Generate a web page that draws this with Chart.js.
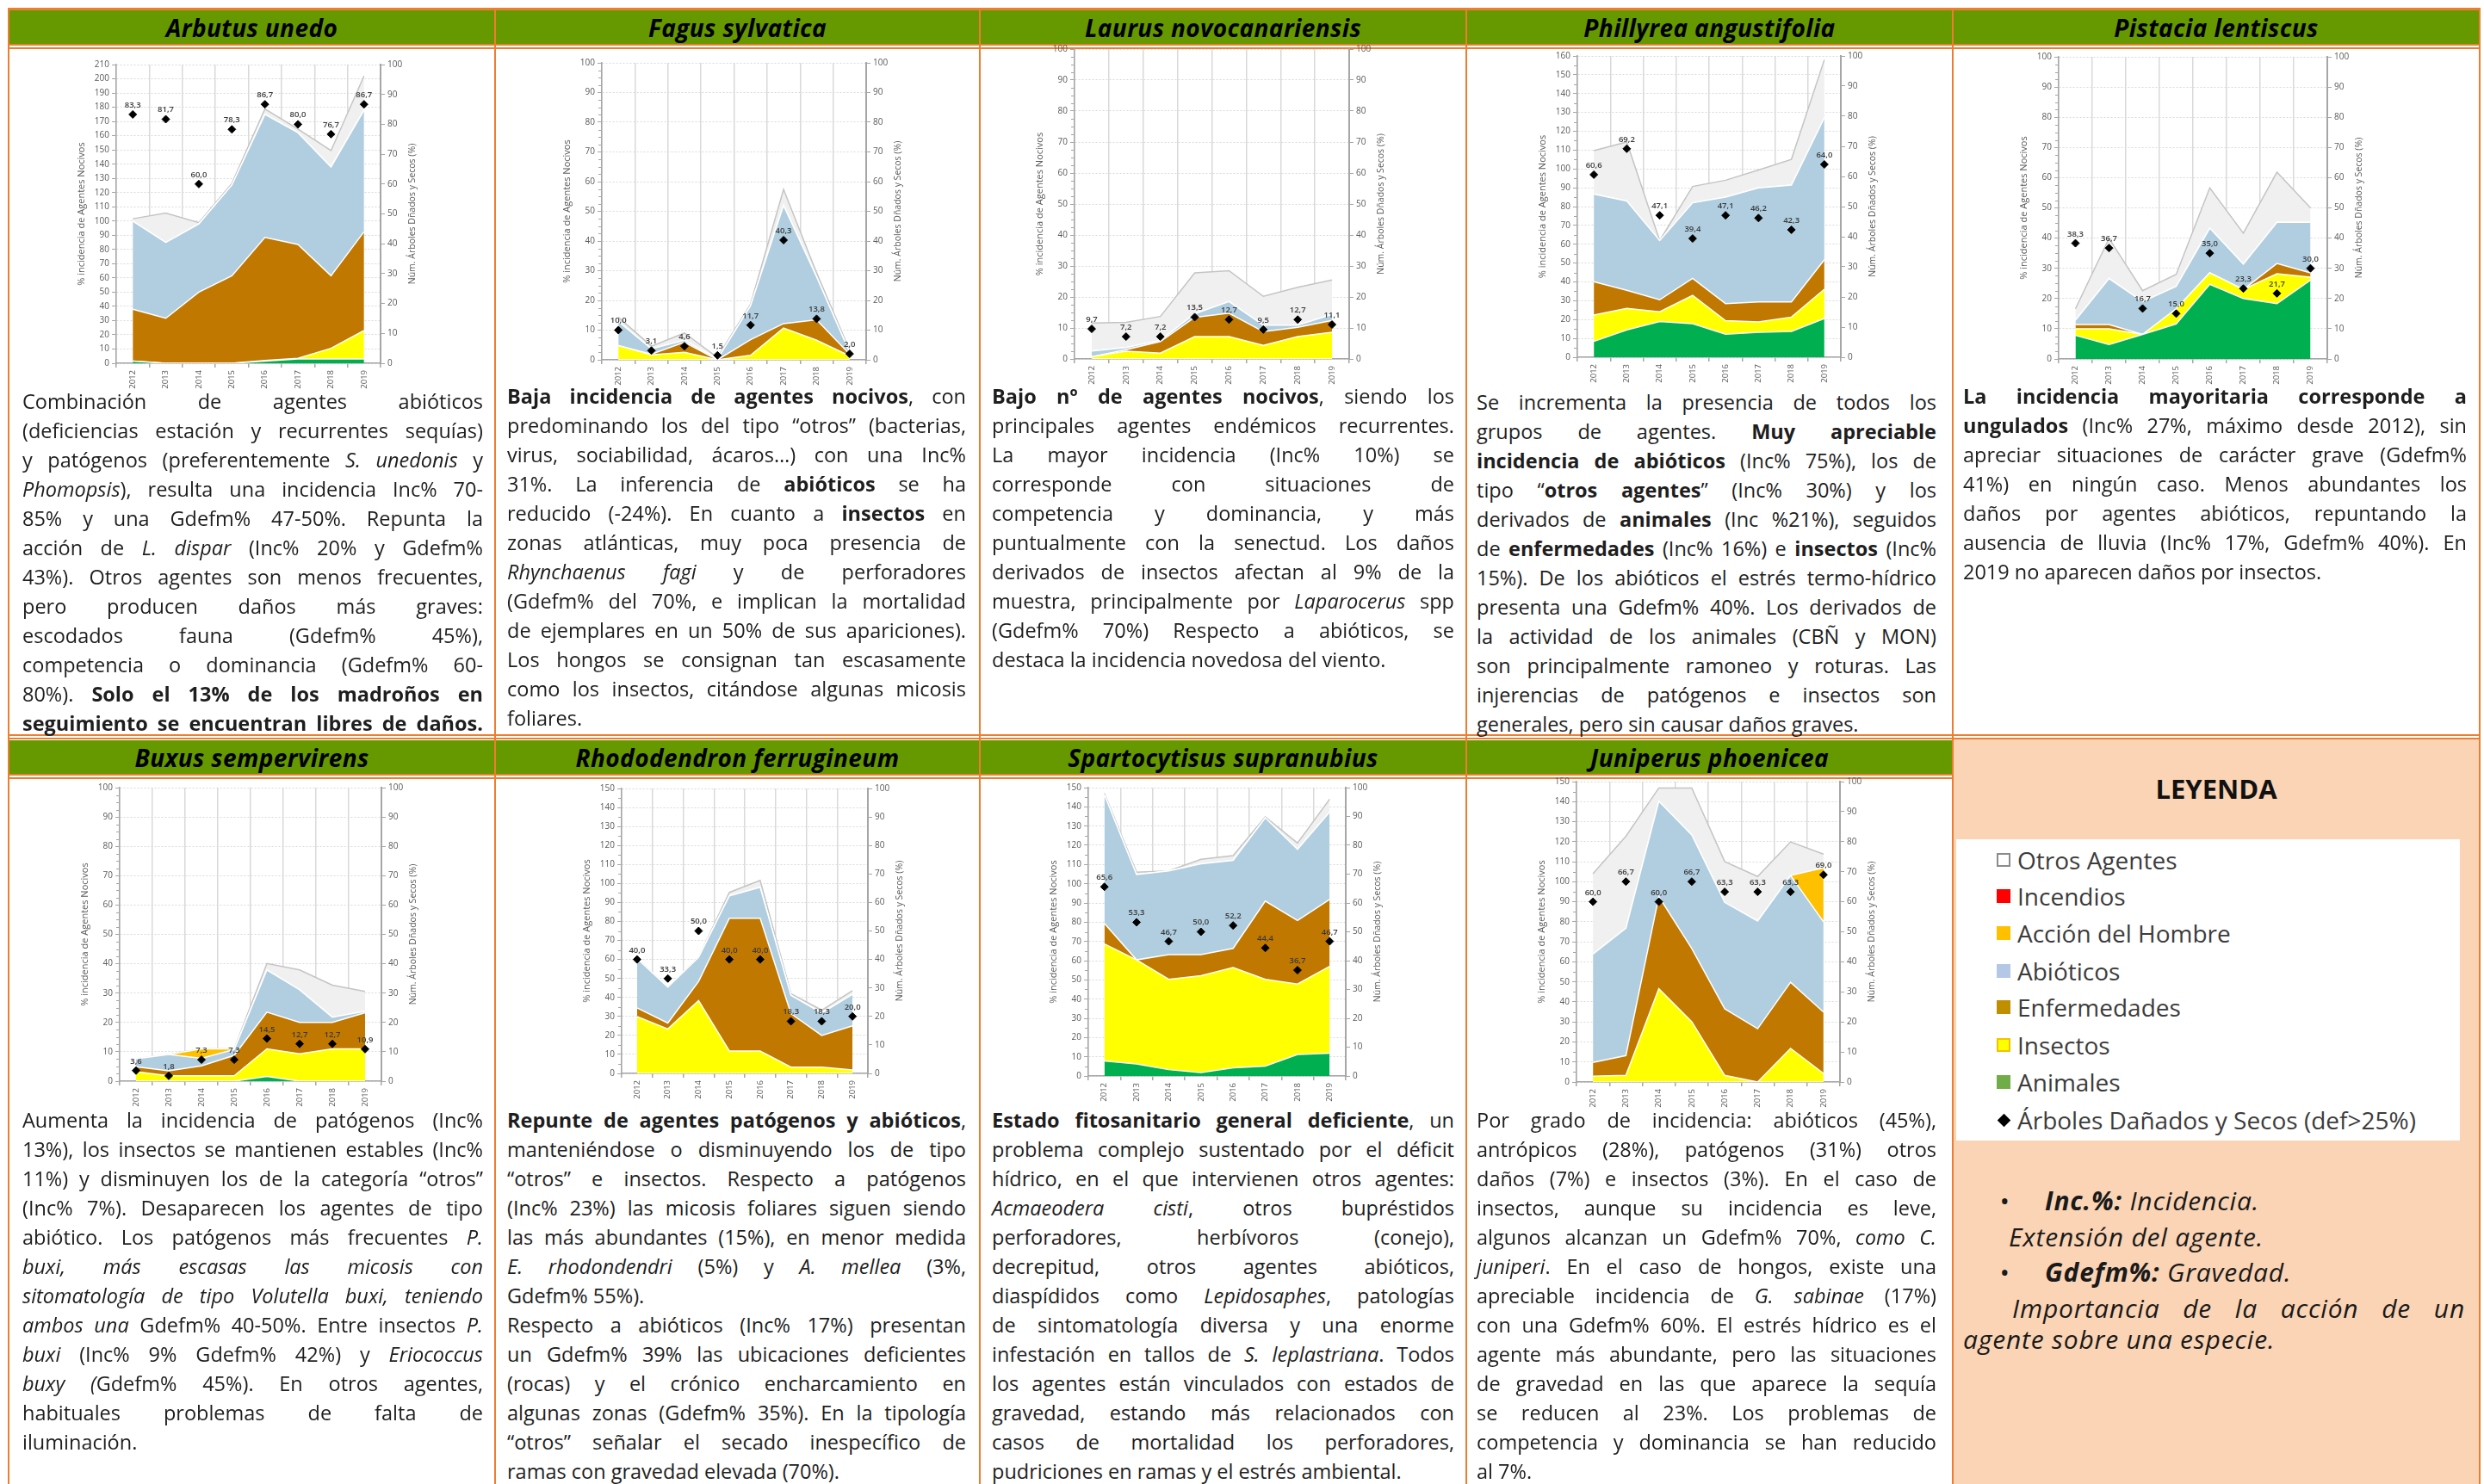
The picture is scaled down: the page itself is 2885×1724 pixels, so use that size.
<!DOCTYPE html>
<html lang="es">
<head>
<meta charset="UTF-8">
<title>Agentes nocivos por especie</title>
<script src="https://cdn.jsdelivr.net/npm/chart.js"></script>
<style>
* { margin: 0; padding: 0; box-sizing: border-box; }
body {
  width: 2885px; height: 1724px; position: relative; overflow: hidden;
  background: #fff; font-family: 'Open Sans', sans-serif; color: #1e1e1e;
}
.hdr {
  position: absolute; background: #669900; display: flex; align-items: center; justify-content: center;
  font-weight: 700; font-style: italic; font-size: 28px; letter-spacing: 0.4px; color: #000;
}
.vl { position: absolute; width: 2px; background: #ed7d31; }
.hl { position: absolute; height: 2px; background: #ed7d31; }
.box { position: absolute; }
.txt { position: absolute; font-size: 23.5px; line-height: 34px; }
.txt .l { text-align: justify; text-align-last: justify; }
.txt .e { text-align-last: left; }

/* Leyenda */
.peach { position: absolute; left: 2269px; top: 859px; width: 610px; height: 865px; background: #fad4b4; }
.leg-title { position: absolute; left: 2269px; width: 610px; top: 895px; text-align: center; font-weight: 700; font-size: 31px; color: #111; }
.leg-box { position: absolute; left: 2272px; top: 975px; width: 585px; height: 350px; background: #fff; }
.leg-item { position: absolute; left: 2319px; height: 40px; display: flex; align-items: center; font-size: 28px; color: #3c3c3c; }
.sw { width: 16px; height: 16px; margin-right: 8px; }
.dia { width: 11px; height: 11px; background: #000; transform: rotate(45deg); margin: 0 10px 0 3px; }
.note { position: absolute; font-size: 30px; letter-spacing: 0.8px; font-style: italic; color: #1a1a1a; white-space: nowrap; }
</style>
</head>
<body>

<!-- frame -->
<div class="hl" style="left:9px;top:9px;width:2872px;height:3px"></div>
<div class="hl" style="left:9px;top:51px;width:2872px"></div>
<div class="hl" style="left:9px;top:55px;width:2872px"></div>
<div class="hl" style="left:9px;top:853px;width:2872px"></div>
<div class="hl" style="left:9px;top:857px;width:2872px"></div>
<div class="hl" style="left:9px;top:899px;width:2260px"></div>
<div class="hl" style="left:9px;top:903px;width:2260px"></div>

<div class="hdr" style="left:11px;top:12px;width:563px;height:39px">Arbutus unedo</div>
<div class="hdr" style="left:576px;top:12px;width:561px;height:39px">Fagus sylvatica</div>
<div class="hdr" style="left:1139px;top:12px;width:563px;height:39px">Laurus novocanariensis</div>
<div class="hdr" style="left:1704px;top:12px;width:563px;height:39px">Phillyrea angustifolia</div>
<div class="hdr" style="left:2269px;top:12px;width:610px;height:39px">Pistacia lentiscus</div>

<div class="hdr" style="left:11px;top:860px;width:563px;height:39px">Buxus sempervirens</div>
<div class="hdr" style="left:576px;top:860px;width:561px;height:39px">Rhododendron ferrugineum</div>
<div class="hdr" style="left:1139px;top:860px;width:563px;height:39px">Spartocytisus supranubius</div>
<div class="hdr" style="left:1704px;top:860px;width:563px;height:39px">Juniperus phoenicea</div>

<div class="peach"></div>

<div class="vl" style="left:9px;top:9px;height:1715px"></div>
<div class="vl" style="left:574px;top:9px;height:1715px"></div>
<div class="vl" style="left:1137px;top:9px;height:1715px"></div>
<div class="vl" style="left:1702px;top:9px;height:1715px"></div>
<div class="vl" style="left:2267px;top:9px;height:1715px"></div>
<div class="vl" style="left:2879px;top:9px;height:1715px"></div>

<!-- charts -->
<div class="box" style="left:87px;top:65px;width:399px;height:387px"><canvas id="c1"></canvas></div>
<div class="box" style="left:651px;top:63px;width:399px;height:385px"><canvas id="c2"></canvas></div>
<div class="box" style="left:1200px;top:47px;width:411px;height:400px"><canvas id="c3"></canvas></div>
<div class="box" style="left:1784px;top:55px;width:398px;height:390px"><canvas id="c4"></canvas></div>
<div class="box" style="left:2343px;top:56px;width:404px;height:391px"><canvas id="c5"></canvas></div>
<div class="box" style="left:91px;top:905px;width:396px;height:381px"><canvas id="c6"></canvas></div>
<div class="box" style="left:674px;top:906px;width:378px;height:371px"><canvas id="c7"></canvas></div>
<div class="box" style="left:1216px;top:905px;width:391px;height:375px"><canvas id="c8"></canvas></div>
<div class="box" style="left:1783px;top:898px;width:398px;height:389px"><canvas id="c9"></canvas></div>

<!-- texts row 1 -->
<div class="txt" style="left:26px;top:449px;width:535px">
<div class="l">Combinación de agentes abióticos</div>
<div class="l">(deficiencias estación y recurrentes sequías)</div>
<div class="l">y patógenos (preferentemente <i>S. unedonis</i> y</div>
<div class="l"><i>Phomopsis</i>), resulta una incidencia Inc% 70-</div>
<div class="l">85% y una Gdefm% 47-50%. Repunta la</div>
<div class="l">acción de <i>L. dispar</i> (Inc% 20% y Gdefm%</div>
<div class="l">43%). Otros agentes son menos frecuentes,</div>
<div class="l">pero producen daños más graves:</div>
<div class="l">escodados fauna (Gdefm% 45%),</div>
<div class="l">competencia o dominancia (Gdefm% 60-</div>
<div class="l">80%). <b>Solo el 13% de los madroños en</b></div>
<div class="l"><b>seguimiento se encuentran libres de daños.</b></div>
</div>

<div class="txt" style="left:589px;top:443px;width:533px">
<div class="l"><b>Baja incidencia de agentes nocivos</b>, con</div>
<div class="l">predominando los del tipo “otros” (bacterias,</div>
<div class="l">virus, sociabilidad, ácaros…) con una Inc%</div>
<div class="l">31%. La inferencia de <b>abióticos</b> se ha</div>
<div class="l">reducido (-24%). En cuanto a <b>insectos</b> en</div>
<div class="l">zonas atlánticas, muy poca presencia de</div>
<div class="l"><i>Rhynchaenus fagi</i> y de perforadores</div>
<div class="l">(Gdefm% del 70%, e implican la mortalidad</div>
<div class="l">de ejemplares en un 50% de sus apariciones).</div>
<div class="l">Los hongos se consignan tan escasamente</div>
<div class="l">como los insectos, citándose algunas micosis</div>
<div class="l e">foliares.</div>
</div>

<div class="txt" style="left:1152px;top:443px;width:537px">
<div class="l"><b>Bajo nº de agentes nocivos</b>, siendo los</div>
<div class="l">principales agentes endémicos recurrentes.</div>
<div class="l">La mayor incidencia (Inc% 10%) se</div>
<div class="l">corresponde con situaciones de</div>
<div class="l">competencia y dominancia, y más</div>
<div class="l">puntualmente con la senectud. Los daños</div>
<div class="l">derivados de insectos afectan al 9% de la</div>
<div class="l">muestra, principalmente por <i>Laparocerus</i> spp</div>
<div class="l">(Gdefm% 70%) Respecto a abióticos, se</div>
<div class="l e">destaca la incidencia novedosa del viento.</div>
</div>

<div class="txt" style="left:1715px;top:450px;width:534px">
<div class="l">Se incrementa la presencia de todos los</div>
<div class="l">grupos de agentes. <b>Muy apreciable</b></div>
<div class="l"><b>incidencia de abióticos</b> (Inc% 75%), los de</div>
<div class="l">tipo “<b>otros agentes</b>” (Inc% 30%) y los</div>
<div class="l">derivados de <b>animales</b> (Inc %21%), seguidos</div>
<div class="l">de <b>enfermedades</b> (Inc% 16%) e <b>insectos</b> (Inc%</div>
<div class="l">15%). De los abióticos el estrés termo-hídrico</div>
<div class="l">presenta una Gdefm% 40%. Los derivados de</div>
<div class="l">la actividad de los animales (CBÑ y MON)</div>
<div class="l">son principalmente ramoneo y roturas. Las</div>
<div class="l">injerencias de patógenos e insectos son</div>
<div class="l e">generales, pero sin causar daños graves.</div>
</div>

<div class="txt" style="left:2280px;top:443px;width:585px">
<div class="l"><b>La incidencia mayoritaria corresponde a</b></div>
<div class="l"><b>ungulados</b> (Inc% 27%, máximo desde 2012), sin</div>
<div class="l">apreciar situaciones de carácter grave (Gdefm%</div>
<div class="l">41%) en ningún caso. Menos abundantes los</div>
<div class="l">daños por agentes abióticos, repuntando la</div>
<div class="l">ausencia de lluvia (Inc% 17%, Gdefm% 40%). En</div>
<div class="l e">2019 no aparecen daños por insectos.</div>
</div>

<!-- texts row 2 -->
<div class="txt" style="left:26px;top:1284px;width:535px">
<div class="l">Aumenta la incidencia de patógenos (Inc%</div>
<div class="l">13%), los insectos se mantienen estables (Inc%</div>
<div class="l">11%) y disminuyen los de la categoría “otros”</div>
<div class="l">(Inc% 7%). Desaparecen los agentes de tipo</div>
<div class="l">abiótico. Los patógenos más frecuentes <i>P.</i></div>
<div class="l"><i>buxi, más escasas las micosis con</i></div>
<div class="l"><i>sitomatología de tipo Volutella buxi, teniendo</i></div>
<div class="l"><i>ambos una</i> Gdefm% 40-50%. Entre insectos <i>P.</i></div>
<div class="l"><i>buxi</i> (Inc% 9% Gdefm% 42%) y <i>Eriococcus</i></div>
<div class="l"><i>buxy (</i>Gdefm% 45%). En otros agentes,</div>
<div class="l">habituales problemas de falta de</div>
<div class="l e">iluminación.</div>
</div>

<div class="txt" style="left:589px;top:1284px;width:533px">
<div class="l"><b>Repunte de agentes patógenos y abióticos</b>,</div>
<div class="l">manteniéndose o disminuyendo los de tipo</div>
<div class="l">“otros” e insectos. Respecto a patógenos</div>
<div class="l">(Inc% 23%) las micosis foliares siguen siendo</div>
<div class="l">las más abundantes (15%), en menor medida</div>
<div class="l"><i>E. rhodondendri</i> (5%) y <i>A. mellea</i> (3%,</div>
<div class="l e">Gdefm% 55%).</div>
<div class="l">Respecto a abióticos (Inc% 17%) presentan</div>
<div class="l">un Gdefm% 39% las ubicaciones deficientes</div>
<div class="l">(rocas) y el crónico encharcamiento en</div>
<div class="l">algunas zonas (Gdefm% 35%). En la tipología</div>
<div class="l">“otros” señalar el secado inespecífico de</div>
<div class="l e">ramas con gravedad elevada (70%).</div>
</div>

<div class="txt" style="left:1152px;top:1284px;width:537px">
<div class="l"><b>Estado fitosanitario general deficiente</b>, un</div>
<div class="l">problema complejo sustentado por el déficit</div>
<div class="l">hídrico, en el que intervienen otros agentes:</div>
<div class="l"><i>Acmaeodera cisti</i>, otros bupréstidos</div>
<div class="l">perforadores, herbívoros (conejo),</div>
<div class="l">decrepitud, otros agentes abióticos,</div>
<div class="l">diaspídidos como <i>Lepidosaphes</i>, patologías</div>
<div class="l">de sintomatología diversa y una enorme</div>
<div class="l">infestación en tallos de <i>S. leplastriana</i>. Todos</div>
<div class="l">los agentes están vinculados con estados de</div>
<div class="l">gravedad, estando más relacionados con</div>
<div class="l">casos de mortalidad los perforadores,</div>
<div class="l e">pudriciones en ramas y el estrés ambiental.</div>
</div>

<div class="txt" style="left:1715px;top:1284px;width:534px">
<div class="l">Por grado de incidencia: abióticos (45%),</div>
<div class="l">antrópicos (28%), patógenos (31%) otros</div>
<div class="l">daños (7%) e insectos (3%). En el caso de</div>
<div class="l">insectos, aunque su incidencia es leve,</div>
<div class="l">algunos alcanzan un Gdefm% 70%, <i>como C.</i></div>
<div class="l"><i>juniperi</i>. En el caso de hongos, existe una</div>
<div class="l">apreciable incidencia de <i>G. sabinae</i> (17%)</div>
<div class="l">con una Gdefm% 60%. El estrés hídrico es el</div>
<div class="l">agente más abundante, pero las situaciones</div>
<div class="l">de gravedad en las que aparece la sequía</div>
<div class="l">se reducen al 23%. Los problemas de</div>
<div class="l">competencia y dominancia se han reducido</div>
<div class="l e">al 7%.</div>
</div>

<!-- leyenda -->
<div class="leg-title">LEYENDA</div>
<div class="leg-box"></div>
<div class="leg-item" style="top:979px"><div class="sw" style="background:#fff;border:2px solid #8c8c8c"></div>Otros Agentes</div>
<div class="leg-item" style="top:1021px"><div class="sw" style="background:#ff0000"></div>Incendios</div>
<div class="leg-item" style="top:1064px"><div class="sw" style="background:#ffc000"></div>Acción del Hombre</div>
<div class="leg-item" style="top:1108px"><div class="sw" style="background:#b4c7e7"></div>Abióticos</div>
<div class="leg-item" style="top:1150px"><div class="sw" style="background:#bf8f00"></div>Enfermedades</div>
<div class="leg-item" style="top:1194px"><div class="sw" style="background:#ffff00;border:2px solid #f2c200"></div>Insectos</div>
<div class="leg-item" style="top:1237px"><div class="sw" style="background:#70ad47"></div>Animales</div>
<div class="leg-item" style="top:1281px"><div class="dia"></div>Árboles Dañados y Secos (def&gt;25%)</div>

<div class="note" style="left:2322px;top:1374px">•</div>
<div class="note" style="left:2375px;top:1374px"><b>Inc.%:</b> Incidencia.</div>
<div class="note" style="left:2333px;top:1416px">Extensión del agente.</div>
<div class="note" style="left:2322px;top:1457px">•</div>
<div class="note" style="left:2375px;top:1457px"><b>Gdefm%:</b> Gravedad.</div>
<div class="note" style="left:2337px;top:1499px;width:526px;text-align:justify;text-align-last:justify;white-space:normal">Importancia de la acción de un</div>
<div class="note" style="left:2280px;top:1535px">agente sobre una especie.</div>

<script>
document.addEventListener('DOMContentLoaded', function () {

const years = ['2012', '2013', '2014', '2015', '2016', '2017', '2018', '2019'];
const none = [0, 0, 0, 0, 0, 0, 0, 0];

// Arbutus unedo
const arbutusAnimales = [1.5, 0, 0, 0, 1.5, 3, 3, 3];
const arbutusInsectos = [0, 0, 0, 0, 0.5, 0.5, 7.5, 20];
const arbutusEnfermedades = [36.5, 31.6, 50, 61.5, 86.5, 80, 51, 69.5];
const arbutusAbioticos = [62, 53.4, 48, 63.8, 86.5, 78.6, 76.5, 85.5];
const arbutusOtros = [1.6, 20.6, 0.8, 1.1, 3.8, 2.6, 11.5, 24];
const arbutusArboles = [83.3, 81.7, 60.0, 78.3, 86.7, 80.0, 76.7, 86.7];

// Fagus sylvatica
const fagusInsectos = [4.8, 1.7, 2.5, 0, 1.5, 10.7, 6.6, 1.3];
const fagusEnfermedades = [0, 0.2, 3.4, 0, 5.3, 1.5, 6.9, 0.6];
const fagusAbioticos = [8.1, 1.8, 0.7, 0.3, 11.4, 39.8, 14.4, 0.6];
const fagusOtros = [1.4, 0.9, 2.4, 0.5, 0.5, 5.4, 1.4, 0.7];
const fagusArboles = [10.0, 3.1, 4.6, 1.5, 11.7, 40.3, 13.8, 2.0];

// Laurus novocanariensis
const laurusInsectos = [0.7, 2.5, 1.9, 7.2, 7.2, 4.4, 7.2, 8.6];
const laurusEnfermedades = [0, 0.5, 3.7, 6.2, 7.6, 4.4, 3, 3.8];
const laurusAbioticos = [1.9, 0.7, 0.4, 1.2, 3.7, 2.1, 0.7, 2];
const laurusOtros = [9, 8.1, 7.7, 13.2, 10, 9.3, 12.2, 11.1];
const laurusArboles = [9.7, 7.2, 7.2, 13.5, 12.7, 9.5, 12.7, 11.1];

// Phillyrea angustifolia
const phillyreaAnimales = [8.4, 14.5, 19, 17.8, 12.2, 13.3, 13.7, 20.6];
const phillyreaInsectos = [14, 11.4, 5.1, 15, 7.2, 5.4, 7.6, 15.5];
const phillyreaEnfermedades = [17.7, 9.6, 6.4, 9.1, 9.1, 10.7, 8.1, 15.7];
const phillyreaAbioticos = [46.5, 47.5, 31.5, 40.1, 56.5, 60.5, 62, 75.4];
const phillyreaOtros = [23.1, 31.3, 0, 8.7, 9, 9.5, 13.7, 30.8];
const phillyreaArboles = [60.6, 69.2, 47.1, 39.4, 47.1, 46.2, 42.3, 64.0];

// Pistacia lentiscus
const pistaciaAnimales = [7.8, 4.8, 8.1, 11.6, 24.7, 20, 18.3, 26.1];
const pistaciaInsectos = [2.2, 5.2, 0, 5, 3.8, 3, 9.9, 1];
const pistaciaEnfermedades = [1.4, 1.4, 0, 0, 0, 0, 3.4, 1.4];
const pistaciaAbioticos = [1.4, 15.2, 10.9, 7.4, 14.8, 8.4, 13.6, 16.7];
const pistaciaOtros = [3.8, 13.3, 3.6, 4, 13.3, 10.2, 16.6, 4.8];
const pistaciaArboles = [38.3, 36.7, 16.7, 15.0, 35.0, 23.3, 21.7, 30.0];

// Buxus sempervirens
const buxusAnimales = [0, 0, 0, 0, 1.6, 0, 0, 0];
const buxusInsectos = [3.2, 1.8, 1.8, 1.8, 9.4, 9.3, 11, 11];
const buxusEnfermedades = [1.7, 1.7, 3.4, 7, 12.5, 10.7, 9, 12.3];
const buxusAbioticos = [2.7, 5.6, 2.6, 2, 14.4, 11.1, 1.8, 0.5];
const buxusHombre = [0, 0, 3.2, 0.2, 0, 0, 0, 0];
const buxusOtros = [0, 0, 0, 0, 2.2, 6.8, 10.9, 6.8];
const buxusArboles = [3.6, 1.8, 7.3, 7.3, 14.5, 12.7, 12.7, 10.9];

// Rhododendron ferrugineum
const rhodoInsectos = [29.9, 23.4, 38.3, 11.8, 11.8, 3.3, 3.3, 1.8];
const rhodoEnfermedades = [4.6, 3.1, 10.1, 69.9, 69.9, 28.2, 16.7, 23.2];
const rhodoAbioticos = [26, 18.9, 12.8, 11.8, 16.3, 9.6, 11.8, 16.6];
const rhodoOtros = [0, 0, 0, 1.8, 3.6, 0.9, 1.5, 2];
const rhodoArboles = [40.0, 33.3, 50.0, 40.0, 40.0, 18.3, 18.3, 20.0];

// Spartocytisus supranubius
const spartoAnimales = [7.8, 6.3, 3.3, 1.8, 4.2, 5.2, 11.2, 11.9];
const spartoInsectos = [60.9, 54.1, 47, 50.4, 52.2, 45.1, 36.6, 45.1];
const spartoEnfermedades = [10.7, 0, 12.8, 10.9, 10, 40.7, 33.1, 34.8];
const spartoAbioticos = [66.9, 44.4, 43.6, 47.3, 45.8, 43.3, 37, 45.5];
const spartoOtros = [0.7, 1.2, 0, 2.3, 2.4, 0.5, 3.3, 6.7];
const spartoArboles = [65.6, 53.3, 46.7, 50.0, 52.2, 44.4, 36.7, 46.7];

// Juniperus phoenicea
const juniperusInsectos = [2.9, 3.3, 46.6, 30.1, 3.3, 0, 16.8, 4.3];
const juniperusEnfermedades = [6.9, 9.9, 46, 36.6, 33.3, 26.6, 33, 30.6];
const juniperusAbioticos = [54.1, 63.6, 47.6, 56.7, 53.1, 53.8, 53.3, 45.1];
const juniperusHombre = [0, 0, 0, 0, 0, 0, 0, 26.9];
const juniperusOtros = [40.1, 45.9, 6.6, 23.4, 20.4, 22.2, 16.8, 6.9];
const juniperusArboles = [60.0, 66.7, 60.0, 66.7, 63.3, 63.3, 63.3, 69.0];

// layers: animales, insectos, enfermedades, abioticos, accion del hombre, otros
const charts = [
  { id: 'c1', max: 210, minor: 0, layers: [arbutusAnimales, arbutusInsectos, arbutusEnfermedades, arbutusAbioticos, none, arbutusOtros], arboles: arbutusArboles },
  { id: 'c2', max: 100, minor: 2.5, layers: [none, fagusInsectos, fagusEnfermedades, fagusAbioticos, none, fagusOtros], arboles: fagusArboles },
  { id: 'c3', max: 100, minor: 2.5, layers: [none, laurusInsectos, laurusEnfermedades, laurusAbioticos, none, laurusOtros], arboles: laurusArboles },
  { id: 'c4', max: 160, minor: 5, layers: [phillyreaAnimales, phillyreaInsectos, phillyreaEnfermedades, phillyreaAbioticos, none, phillyreaOtros], arboles: phillyreaArboles },
  { id: 'c5', max: 100, minor: 2.5, layers: [pistaciaAnimales, pistaciaInsectos, pistaciaEnfermedades, pistaciaAbioticos, none, pistaciaOtros], arboles: pistaciaArboles },
  { id: 'c6', max: 100, minor: 2.5, layers: [buxusAnimales, buxusInsectos, buxusEnfermedades, buxusAbioticos, buxusHombre, buxusOtros], arboles: buxusArboles },
  { id: 'c7', max: 150, minor: 5, layers: [none, rhodoInsectos, rhodoEnfermedades, rhodoAbioticos, none, rhodoOtros], arboles: rhodoArboles },
  { id: 'c8', max: 150, minor: 5, layers: [spartoAnimales, spartoInsectos, spartoEnfermedades, spartoAbioticos, none, spartoOtros], arboles: spartoArboles },
  { id: 'c9', max: 150, minor: 5, layers: [none, juniperusInsectos, juniperusEnfermedades, juniperusAbioticos, juniperusHombre, juniperusOtros], arboles: juniperusArboles }
];

const layerStyles = [
  { label: 'Animales', color: '#00b050' },
  { label: 'Insectos', color: '#ffff00' },
  { label: 'Enfermedades', color: '#c07800' },
  { label: 'Abióticos', color: '#b0cee0' },
  { label: 'Acción del Hombre', color: '#ffc000' },
  { label: 'Otros Agentes', color: '#f0f0f0' }
];

const axisGrey = '#a6a6a6';
const tickGrey = '#595959';
const rightTitle = 'Núm. Árboles Dñados y Secos (%)';

Chart.defaults.font.family = "'Open Sans', sans-serif";

// minor ticks, right axis title, value labels above the diamonds
const extras = {
  id: 'extras',
  afterDraw(chart, args, opts) {
    const ctx = chart.ctx;
    const area = chart.chartArea;
    const y = chart.scales.y;
    ctx.save();
    if (opts.minor) {
      ctx.strokeStyle = axisGrey;
      ctx.lineWidth = 1;
      for (let v = opts.minor; v < y.max; v += opts.minor) {
        if (Math.abs(v % 10) < 0.01) continue;
        const py = Math.round(y.getPixelForValue(v)) + 0.5;
        ctx.beginPath();
        ctx.moveTo(area.left - 4, py);
        ctx.lineTo(area.left, py);
        ctx.stroke();
      }
    }
    ctx.translate(chart.width - 7, (area.top + area.bottom) / 2);
    ctx.rotate(-Math.PI / 2);
    ctx.font = "10.5px 'Open Sans'";
    ctx.fillStyle = tickGrey;
    ctx.textAlign = 'center';
    ctx.textBaseline = 'middle';
    ctx.fillText(rightTitle, 0, 0);
    ctx.restore();

    const meta = chart.getDatasetMeta(0);
    const vals = chart.data.datasets[0].data;
    ctx.save();
    ctx.font = "600 9.5px 'Open Sans'";
    ctx.fillStyle = '#3a3a3a';
    ctx.textAlign = 'center';
    ctx.textBaseline = 'bottom';
    meta.data.forEach((pt, i) => {
      ctx.fillText(vals[i].toFixed(1).replace('.', ','), pt.x, pt.y - 6);
    });
    ctx.restore();
  }
};

charts.forEach(c => {
  const datasets = [{
    label: 'Árboles Dañados y Secos (def>25%)',
    data: c.arboles,
    yAxisID: 'y2',
    showLine: false,
    fill: false,
    pointStyle: 'rectRot',
    pointRadius: 4.5,
    pointBackgroundColor: '#000',
    pointBorderColor: '#000'
  }];
  c.layers.forEach((d, i) => {
    datasets.push({
      label: layerStyles[i].label,
      data: d,
      yAxisID: 'y',
      stack: 'agentes',
      backgroundColor: layerStyles[i].color,
      borderColor: i === 5 ? '#c4c4c4' : '#ffffff',
      borderWidth: 1.5,
      pointRadius: 0,
      tension: 0,
      fill: i === 0 ? 'origin' : '-1'
    });
  });

  new Chart(document.getElementById(c.id), {
    type: 'line',
    data: { labels: years, datasets },
    plugins: [extras],
    options: {
      responsive: true,
      maintainAspectRatio: false,
      animation: false,
      layout: { padding: { top: 10, right: 16, left: 0, bottom: 0 } },
      plugins: {
        legend: { display: false },
        tooltip: { enabled: false },
        extras: { minor: c.minor }
      },
      scales: {
        x: {
          offset: true,
          grid: { offset: true, color: '#d9d9d9', lineWidth: 1.5, tickLength: 5, tickColor: axisGrey },
          border: { color: axisGrey, width: 1.5 },
          ticks: { color: tickGrey, font: { size: 9.5 }, minRotation: 90, maxRotation: 90, padding: 3 },
          afterFit: s => { s.height = 30; }
        },
        y: {
          stacked: true,
          min: 0,
          max: c.max,
          grid: { color: '#dadada', lineWidth: 1, tickLength: 5, tickColor: axisGrey },
          border: { color: axisGrey, width: 1.5, dash: [2, 2] },
          ticks: { stepSize: 10, maxTicksLimit: c.max / 10 + 1, color: tickGrey, font: { size: 10 }, padding: 3 },
          title: { display: true, text: '% incidencia de Agentes Nocivos', color: tickGrey, font: { size: 11 }, padding: 1 },
          afterFit: s => { s.width = 48; }
        },
        y2: {
          position: 'right',
          min: 0,
          max: 100,
          grid: { drawOnChartArea: false, tickLength: 5, tickColor: axisGrey },
          border: { color: axisGrey, width: 2 },
          ticks: { stepSize: 10, maxTicksLimit: 11, color: tickGrey, font: { size: 10 }, padding: 3 },
          afterFit: s => { s.width = 28; }
        }
      }
    }
  });
});

// shrink any justified line that would wrap so each keeps its own row
function fitLines() {
  document.querySelectorAll('.txt .l').forEach(el => {
    let size = parseFloat(getComputedStyle(el).fontSize);
    while (el.offsetHeight > 40 && size > 15) {
      size -= 0.25;
      el.style.fontSize = size + 'px';
    }
  });
}
fitLines();
if (document.fonts && document.fonts.ready) document.fonts.ready.then(fitLines);

});
</script>
</body>
</html>
